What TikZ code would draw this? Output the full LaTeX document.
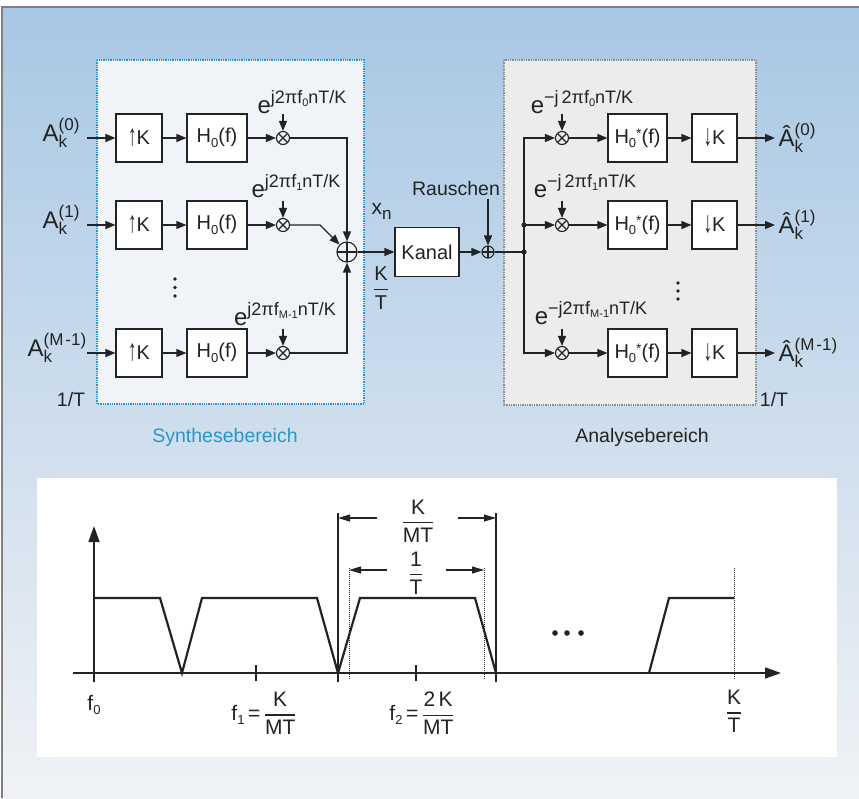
\documentclass[tikz,border=0pt]{standalone}
\usepackage{fontspec}
\usepackage{amsmath}
\usepackage{graphicx}
\setmainfont{Liberation Sans}
\usetikzlibrary{arrows.meta}

\definecolor{ink}{RGB}{35,35,35}
\definecolor{bgtop}{RGB}{168,199,228}
\definecolor{bgmid}{RGB}{198,216,235}
\definecolor{bgbot}{RGB}{240,242,245}
\definecolor{synblue}{RGB}{40,150,205}
\definecolor{synfill}{RGB}{240,244,248}
\definecolor{anafill}{RGB}{236,236,236}
\definecolor{anaborder}{RGB}{140,140,140}

\newcommand{\fsz}[1]{\fontsize{#1}{#1}\selectfont}
\newcommand{\mysubs}[1]{\raisebox{-3.5pt}{\fsz{11}#1}}
\newcommand{\mysub}[1]{\raisebox{-4.5pt}{\fsz{13}#1}}
\newcommand{\SupSub}[2]{\rlap{\raisebox{-6.5pt}{\fsz{17}#2}}\raisebox{10.5pt}{\fsz{17}#1}}
\newcommand{\Ain}[1]{{\fsz{24}A}\SupSub{(#1)}{k}}
\newcommand{\Aout}[1]{{\fsz{24}Â}\SupSub{(#1)}{k}}
\newcommand{\Ex}[1]{{\fsz{24}e}\raisebox{10pt}{\fsz{18}#1}}
\newcommand{\Hz}{H\mysub{0}(f)}
\newcommand{\Hs}{H\mysub{0}\raisebox{5pt}{\fsz{14}*}(f)}
\newcommand{\Up}{\raisebox{-1.5pt}{\scalebox{0.85}[1.5]{↑}}}
\newcommand{\Dn}{\raisebox{-1.5pt}{\scalebox{0.85}[1.5]{↓}}}
\newcommand{\Fr}[2]{$\genfrac{}{}{1.1pt}{0}{\text{#1}}{\text{#2}}$}

\begin{document}
\begin{tikzpicture}[x=1pt,y=-1pt, line width=1.3pt, color=ink,
  arr/.style={-{Triangle[length=10pt,width=8pt]}},
  blk/.style={draw, fill=white, line width=1.1pt, minimum height=48pt, inner sep=0pt, font=\fsz{20}},
  mult/.style={circle, draw, line width=1.1pt, minimum size=13pt, inner sep=0pt,
    path picture={\draw[line width=1.1pt] (path picture bounding box.center) +(45:8pt) -- +(225:8pt)
      (path picture bounding box.center) +(135:8pt) -- +(-45:8pt);}},
  adder/.style={circle, draw, line width=1.1pt, minimum size=#1, inner sep=0pt,
    path picture={\draw[line width=1.1pt] (path picture bounding box.center) +(0:12pt) -- +(180:12pt)
      (path picture bounding box.center) +(90:12pt) -- +(270:12pt);}},
  lbl/.style={inner sep=0pt, font=\fsz{19.5}},
  tip/.style={inner sep=0pt},
  ]
\useasboundingbox (0,0) rectangle (859,798);
% background
\fill[white] (0,0) rectangle (859,798);
\shade[top color=bgtop, middle color=bgmid, bottom color=bgbot] (2,7) rectangle (859,798);
\draw[gray, line width=1.2pt] (2,798) -- (2,7) -- (859,7);

% region boxes
\draw[synblue, densely dotted, line width=1.3pt, fill=synfill] (97,60) rectangle (364,404);
\draw[anaborder, densely dotted, line width=1.3pt, fill=anafill] (504,60) rectangle (756,405);
\node[lbl, text=synblue] (synlbl) at (225,437) {Synthesebereich};
\node[lbl] (analbl) at (642,437) {Analysebereich};

% synthesis rows
\foreach \i/\y in {0/138,1/225,2/353}{
  \node[blk, minimum width=46pt] (up\i) at (139,\y) {\Up K};
  \node[blk, minimum width=60pt] (h\i) at (217,\y) {\Hz};
  \node[mult] (m\i) at (283,\y) {};
  \coordinate (s\i) at (87,\y);
  \coordinate (e\i) at (283,\y-24);
  \draw[arr] (s\i) -- (up\i);
  \draw[arr] (up\i) -- (h\i);
  \draw[arr] (h\i) -- (m\i);
  \draw[arr] (e\i) -- (m\i);
}
\node[tip, anchor=base west] (a0) at (42,141) {\Ain{0}};
\node[tip, anchor=base west] (a1) at (42,228) {\Ain{1}};
\node[tip, anchor=base west] (a2) at (27,356) {\Ain{M\hspace{2pt}-1}};
\node[tip] (ex0) at (302,102) {\Ex{j2πf\mysubs{0}nT/K}};
\node[tip] (ex1) at (296,186) {\Ex{j2πf\mysubs{1}nT/K}};
\node[tip] (ex2) at (285,314) {\Ex{j2πf\mysubs{M-1}nT/K}};
\foreach \yy in {279,287.5,296} \fill (175,\yy) circle (1.8);
\node[lbl] (tl) at (71,400) {1/T};

% summation
\node[adder=20pt] (sum) at (347,252) {};
\coordinate (k1) at (320,225);
\draw[arr] (m0) -| (sum);
\draw[arr] (m1) -- (k1) -- (sum.135);
\draw[arr] (m2) -| (sum);
\node[tip, anchor=base west] (xn) at (371,214) {{\fsz{21}x}\raisebox{-5pt}{\fsz{17}n}};
\node[tip] (kt) at (381,288) {\fsz{20}\Fr{K}{T}};

% channel and noise
\node[blk, minimum width=64pt, minimum height=49pt, font=\fsz{20}] (kanal) at (427,252) {Kanal};
\draw[arr] (sum) -- (kanal);
\node[adder=12pt] (noise) at (488,252) {};
\draw[arr] (kanal) -- (noise);
\node[lbl] (rausch) at (456,189) {Rauschen};
\coordinate (r0) at (488,199);
\draw[arr] (r0) -- (noise);
\coordinate (j) at (524,252);
\coordinate (j1) at (524,225);
\draw (noise) -- (j);

% analysis rows
\foreach \i/\y in {0/138,1/225,2/353}{
  \node[mult] (am\i) at (562,\y) {};
  \node[blk, minimum width=59pt] (hs\i) at (637.5,\y) {\Hs};
  \node[blk, minimum width=45pt] (dk\i) at (714.5,\y) {\Dn K};
  \coordinate (o\i) at (775,\y);
  \coordinate (ae\i) at (562,\y-24);
  \draw[arr] (ae\i) -- (am\i);
  \draw[arr] (am\i) -- (hs\i);
  \draw[arr] (hs\i) -- (dk\i);
  \draw[arr] (dk\i) -- (o\i);
}
\draw[arr] (j) |- (am0);
\draw[arr] (j) |- (am2);
\draw[arr] (j1) -- (am1);
\fill (j) circle (2.6);
\fill (j1) circle (2.6);
\node[tip] (ax0) at (582,102) {\Ex{−j\,2πf\mysubs{0}nT/K}};
\node[tip] (ax1) at (585,186) {\Ex{−j\,2πf\mysubs{1}nT/K}};
\node[tip] (ax2) at (591,313) {\Ex{−j2πf\mysubs{M-1}nT/K}};
\node[tip, anchor=base west] (b0) at (778,146) {\Aout{0}};
\node[tip, anchor=base west] (b1) at (778,233) {\Aout{1}};
\node[tip, anchor=base west] (b2) at (778,361) {\Aout{M\hspace{2pt}-1}};
\foreach \yy in {283,291,299} \fill (678,\yy) circle (1.8);
\node[lbl] (tr) at (774,400) {1/T};

% spectrum panel
\fill[white] (37,478) rectangle (837,757);
\draw[line width=1.7pt, -{Triangle[length=16pt,width=11pt]}] (73,673) -- (781,673);
\draw[line width=1.7pt, -{Triangle[length=16pt,width=11pt]}] (94,682) -- (94,526);
\draw[line width=2.2pt, line join=miter] (94,598) -- (160,598) -- (182,673) -- (202,598) -- (317,598)
   -- (338,673) -- (360,598) -- (475,598) -- (496,673);
\draw[line width=2.2pt, line join=miter] (649,673) -- (669,598) -- (734,598);
\draw[line width=1.5pt] (256,665) -- (256,681);
\draw[line width=1.5pt] (416,665) -- (416,681);
\draw[line width=1.1pt] (338,513) -- (338,682);
\draw[line width=1.1pt] (496,513) -- (496,682);
\draw[densely dotted, line width=1pt] (349,568) -- (349,680);
\draw[densely dotted, line width=1pt] (484,568) -- (484,680);
\draw[densely dotted, line width=1pt] (734,568) -- (734,680);
\draw[line width=1.1pt, -{Triangle[length=12pt,width=7pt]}] (377,518) -- (338,518);
\draw[line width=1.1pt, -{Triangle[length=12pt,width=7pt]}] (458,518) -- (496,518);
\draw[line width=1.1pt, -{Triangle[length=12pt,width=7pt]}] (387,570) -- (349,570);
\draw[line width=1.1pt, -{Triangle[length=12pt,width=7pt]}] (446,570) -- (484,570);
\node[tip] (kmt) at (418,521) {\fsz{21}\Fr{K}{MT}};
\node[tip] (ot) at (416,573) {\fsz{21}\Fr{1}{T}};
\foreach \xx in {555,567,581} \fill (\xx,633) circle (2.8);
\node[tip] (f0) at (94,705) {\fsz{21}f\mysub{0}};
\node[tip] (f1) at (264,713) {\fsz{21}f\mysub{1}\,=\,\Fr{K}{MT}};
\node[tip] (f2) at (422,713) {\fsz{21}f\mysub{2}\,=\,\Fr{2\,K}{MT}};
\node[tip] (kt2) at (734,711) {\fsz{21}\Fr{K}{T}};
\end{tikzpicture}
\end{document}
